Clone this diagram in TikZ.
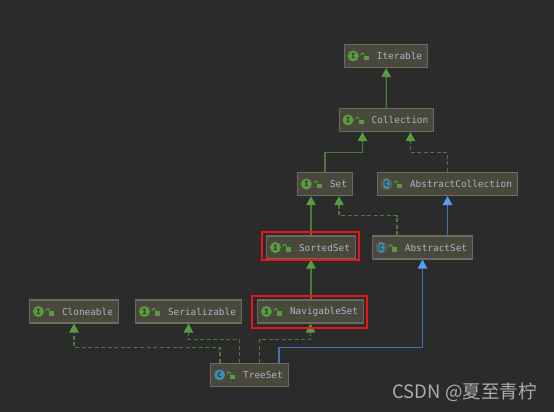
\documentclass[tikz,border=0pt]{standalone}
\usepackage{fontspec}
\setmonofont{DejaVu Sans Mono}
\newfontfamily\markfont{Noto Sans CJK SC}
\usetikzlibrary{arrows.meta,shapes.geometric}
\definecolor{canvas}{HTML}{2B2B2B}
\definecolor{boxfill}{HTML}{4A473C}
\definecolor{boxline}{HTML}{6C6B62}
\definecolor{boxtext}{HTML}{A9B7C6}
\definecolor{leaf}{HTML}{5A9A40}
\definecolor{stem}{HTML}{4C7A3E}
\definecolor{sky}{HTML}{589DF6}
\definecolor{stemblue}{HTML}{3F74B0}
\definecolor{teal}{HTML}{3D8DB0}
\definecolor{alert}{HTML}{EA1419}
\begin{document}
\begin{tikzpicture}[
  x=1pt, y=-1pt,
  cls/.style={draw=boxline, line width=1.2pt, fill=boxfill, text=boxtext, anchor=center, inner xsep=0pt, minimum height=23pt,
    font=\ttfamily\fontsize{9.4}{11}\selectfont, execute at begin node=\hspace*{32.5pt}, execute at end node=\hspace*{5.5pt}},
  ifc/.style={circle, fill=leaf, inner sep=0pt, minimum size=11pt, text=canvas, font=\ttfamily\bfseries\fontsize{7}{8}\selectfont},
  kls/.style={ifc, fill=teal},
  abs/.style={kls, ellipse, minimum width=7pt, minimum height=11pt, inner sep=0pt},
  lockbody/.style={fill=leaf, inner sep=0pt, minimum width=5pt, minimum height=4.7pt},
  extends/.style={stem, line width=1.3pt, -{Triangle[length=9pt, width=9.5pt, color=leaf]}},
  realizes/.style={extends, dash pattern=on 4pt off 2.5pt},
  extendsc/.style={stemblue, line width=1.3pt, -{Triangle[length=9pt, width=9.5pt, color=sky]}},
  hilite/.style={draw=alert, line width=1.4pt, inner sep=0pt}
]
\fill[canvas] (0,0) rectangle (554,412);
\node[cls] (iterable) at (386,56) {Iterable};
\node[cls] (collection) at (386.5,120) {Collection};
\node[cls] (set) at (325,184) {Set};
\node[cls] (abscoll) at (447.5,184) {AbstractCollection};
\node[cls] (sorted) at (311,247.5) {SortedSet};
\node[cls] (absset) at (422.5,247.5) {AbstractSet};
\node[cls] (navigable) at (310.5,311.5) {NavigableSet};
\node[cls] (cloneable) at (74,311.5) {Cloneable};
\node[cls] (serial) at (188.5,311.5) {Serializable};
\node[cls] (treeset) at (249.5,375) {TreeSet};
% icons
\foreach \name/\kind/\mark in {iterable/ifc/I, collection/ifc/I, set/ifc/I, sorted/ifc/I, navigable/ifc/I, cloneable/ifc/I, serial/ifc/I, treeset/kls/C, abscoll/abs/C, absset/abs/C} {
  \node[\kind] (\name-icon) at ([xshift=9.5pt]\name.west) {\mark};
  \node[lockbody] (\name-lock) at ([xshift=22.5pt,yshift=-1.9pt]\name.west) {};
  \draw[leaf, line width=0.9pt] (\name-lock.north west) ++(0.5,0) -- ++(0,-1) arc[start angle=0, end angle=180, radius=1.5pt] -- ++(0,1);
}
\foreach \name in {abscoll, absset} {
  \node[circle, draw=boxline, line width=0.8pt, inner sep=0pt, minimum size=11pt] (\name-ring) at (\name-icon) {};
}
% arrows
\draw[extends] (collection) -- (iterable);
\draw[extends] (set.north) -- ++(0,-19.1) -| ([xshift=-24pt]collection.south);
\draw[realizes] (abscoll.north) -- ++(0,-19.1) -| ([xshift=24pt]collection.south);
\draw[extends] ([xshift=-14pt]set.south |- sorted.north) -- ([xshift=-14pt]set.south);
\draw[realizes] ([xshift=-25.5pt]absset.north) -- ++(0,-19.6) -| ([xshift=14pt]set.south);
\draw[extendsc] ([xshift=25pt]absset.north) -- (abscoll.south);
\draw[extends] (sorted.south |- navigable.north) -- (sorted.south);
\draw[extendsc] ([xshift=29.5pt]treeset.north) -- ++(0,-15.1) -| (absset.south);
\draw[realizes] ([xshift=10pt]treeset.north) -- ++(0,-23.1) -| (navigable.south);
\draw[realizes] ([xshift=-10pt]treeset.north) -- ++(0,-23.1) -| (serial.south);
\draw[realizes] ([xshift=-29.5pt]treeset.north) -- ++(0,-15.1) -| (cloneable.south);
% red marks
\node[hilite, minimum width=97pt, minimum height=28pt] (sortedmark) at (310.5,246) {};
\node[hilite, minimum width=115pt, minimum height=32pt] (navigablemark) at (309.5,312) {};
\node[text=white!68!black, font=\markfont\fontsize{18.5}{22}\selectfont, anchor=center] (csdn) at (464.5,392.5) {CSDN @夏至青柠};
\end{tikzpicture}
\end{document}
